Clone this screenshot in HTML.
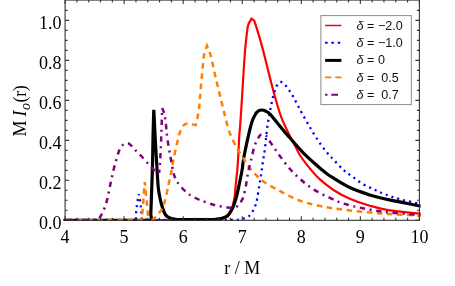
<!DOCTYPE html>
<html><head><meta charset="utf-8"><title>plot</title>
<style>
html,body{margin:0;padding:0;background:#fff;}
body{width:455px;height:286px;overflow:hidden;font-family:"Liberation Serif",serif;}
svg{display:block}
.tl text{font-family:"Liberation Serif",serif;font-size:18px;fill:#000}
.lg text{font-family:"Liberation Sans",sans-serif;font-size:12.55px;fill:#111}
</style></head><body>
<svg width="455" height="286" viewBox="0 0 455 286">
<rect width="455" height="286" fill="#fff"/>
<defs><clipPath id="cp"><rect x="63.39999999999999" y="0.05" width="357.19999999999993" height="220.85"/></clipPath></defs>
<g clip-path="url(#cp)" fill="none" stroke-linejoin="miter" stroke-miterlimit="3">
<path d="M65.5 220.0 C115.3 220.0 212.2 220.0 215.0 220.0 C217.8 220.0 219.3 219.4 221.0 219.0 C222.7 218.6 223.7 218.4 225.0 217.8 C226.3 217.2 227.6 216.9 228.7 215.6 C229.8 214.3 230.7 212.1 231.5 210.0 C232.3 207.9 232.9 205.3 233.4 203.0 C233.9 200.7 234.3 199.2 234.7 195.9 C235.1 192.6 235.6 186.3 236.0 182.0 C236.4 177.7 236.9 174.2 237.3 170.0 C237.7 165.8 237.9 162.5 238.2 157.0 C238.5 151.5 238.9 142.3 239.2 137.0 C239.5 131.7 239.9 129.5 240.2 125.0 C240.5 120.5 240.9 115.0 241.2 110.0 C241.5 105.0 241.9 100.0 242.2 95.0 C242.5 90.0 242.8 84.7 243.1 80.0 C243.4 75.3 243.5 72.7 243.9 67.0 C244.3 61.3 244.8 52.8 245.5 45.9 C246.2 39.0 247.1 29.5 247.9 25.9 C248.7 22.3 250.3 21.1 251.5 18.7 C252.4 19.3 253.3 20.0 254.2 20.6 C255.1 23.4 255.7 25.1 256.9 28.9 C258.1 32.7 260.2 39.5 261.9 45.9 C263.6 52.2 265.7 60.7 267.3 67.0 C268.9 73.3 270.0 78.0 271.4 83.5 C272.8 89.0 274.3 94.4 275.9 100.0 C277.5 105.6 279.5 112.3 281.2 117.0 C282.9 121.7 284.2 124.2 286.0 128.0 C287.8 131.8 290.2 136.7 291.8 139.8 C293.4 143.0 294.3 144.2 295.7 146.9 C297.1 149.6 298.0 152.4 300.4 156.0 C302.8 159.6 306.6 164.5 309.8 168.4 C313.1 172.3 315.9 175.8 319.9 179.4 C323.9 183.0 328.9 187.0 333.9 190.2 C338.9 193.4 343.8 196.2 349.8 198.8 C355.8 201.4 363.0 203.8 369.7 205.7 C376.4 207.6 381.3 209.1 390.0 210.4 C398.7 211.8 411.3 212.7 422.0 213.8" stroke="#ff0000" stroke-width="2.2"/>
<path d="M65.5 220.0 C88.9 220.0 112.4 220.0 135.8 220.0 C135.9 217.9 135.9 215.8 136.1 213.7 C136.2 211.6 136.4 209.4 136.7 207.2 C136.9 205.0 137.2 202.9 137.6 200.7 C137.9 198.5 138.4 196.4 138.8 194.2 C139.2 196.4 139.8 198.5 140.1 200.7 C140.4 202.9 140.7 205.0 140.9 207.2 C141.1 209.4 141.3 211.6 141.5 213.7 C141.7 215.8 141.7 217.9 141.8 220.0 C173.2 220.0 234.1 220.0 236.0 220.0 C237.9 220.0 238.7 219.5 240.0 219.2 C241.3 218.9 242.5 218.9 244.0 218.4 C245.5 217.9 247.5 217.3 248.9 216.2 C250.3 215.1 251.4 213.4 252.5 211.6 C253.6 209.8 254.5 207.7 255.3 205.6 C256.1 203.5 256.5 202.0 257.1 198.9 C257.7 195.8 258.6 190.1 259.3 185.9 C260.0 181.8 260.6 178.0 261.2 174.0 C261.8 170.0 262.3 166.1 262.9 161.9 C263.5 157.7 264.2 154.2 264.9 148.9 C265.6 143.6 266.2 135.2 266.9 130.0 C267.5 124.8 268.4 120.7 268.8 117.9 C269.2 115.1 269.4 113.9 269.8 111.8 C270.2 109.7 270.8 107.5 271.2 105.4 C271.6 103.3 271.9 101.3 272.4 99.2 C272.9 97.1 273.6 95.0 274.2 92.9 C274.8 90.9 275.2 88.7 276.2 86.9 C277.2 85.1 278.7 82.2 280.2 81.9 C281.7 81.6 283.9 83.9 285.4 85.3 C286.9 86.7 288.0 88.5 289.2 90.3 C290.4 92.1 291.6 94.1 292.7 95.9 C293.8 97.8 294.7 99.5 295.7 101.4 C296.7 103.3 297.7 105.3 298.7 107.2 C299.7 109.1 300.3 110.3 301.7 112.8 C303.1 115.3 306.9 122.0 309.5 126.5 C312.1 131.0 315.0 135.9 317.6 139.8 C320.2 143.7 322.8 147.3 324.9 150.0 C326.9 152.7 328.4 154.1 329.9 155.8 C331.4 157.5 332.1 158.1 333.9 160.0 C335.7 161.9 339.8 166.7 342.8 169.4 C345.8 172.1 348.3 173.7 351.8 176.2 C355.3 178.7 359.7 182.2 363.7 184.5 C367.7 186.8 372.0 188.5 375.7 190.2 C379.4 191.9 381.6 193.0 385.7 194.5 C389.8 196.0 393.9 197.7 400.0 199.3 C406.1 200.9 414.7 202.6 422.0 204.3" stroke="#0000ff" stroke-width="2.3" stroke-dasharray="2.1 4.0" stroke-dashoffset="2.25"/>
<path d="M62.0 220.4 C91.3 220.4 147.0 220.6 149.9 220.4 C152.8 220.2 150.7 216.9 150.8 214.0 C150.9 211.1 151.9 184.7 152.3 172.0 C152.7 159.3 152.8 148.3 153.0 138.0 C153.2 127.7 153.5 119.3 153.8 109.9 C154.3 119.3 154.6 127.7 155.2 138.0 C155.8 148.3 156.7 164.7 157.2 172.0 C157.7 179.3 157.8 183.7 158.3 188.0 C158.8 192.3 159.4 195.2 160.0 198.0 C160.6 200.8 160.9 202.5 161.7 205.0 C162.4 207.5 163.7 211.2 164.5 213.0 C165.3 214.8 166.2 215.7 167.1 216.5 C168.0 217.3 168.8 217.6 170.0 218.0 C171.2 218.4 172.3 218.7 174.0 219.0 C175.7 219.3 177.3 219.6 180.0 219.6 C182.7 219.6 210.2 219.6 212.0 219.6 C213.8 219.6 214.5 219.5 216.0 219.3 C217.5 219.1 219.4 218.9 221.0 218.5 C222.6 218.1 224.4 217.5 225.7 216.8 C227.0 216.1 227.7 215.5 228.7 214.3 C229.7 213.1 230.8 211.5 231.7 209.8 C232.6 208.1 233.4 206.3 234.2 204.0 C235.0 201.7 235.8 199.6 236.7 195.9 C237.6 192.2 238.8 186.3 239.7 182.0 C240.6 177.7 241.4 174.2 242.1 170.0 C242.8 165.8 242.9 162.4 243.9 157.0 C244.9 151.6 246.6 143.7 247.9 137.8 C249.2 132.0 250.6 126.0 251.9 121.9 C253.2 117.8 255.1 114.8 255.9 113.4 C256.7 112.0 257.5 111.5 258.5 110.9 C259.5 110.3 260.7 110.0 261.9 110.0 C263.1 110.0 264.2 110.3 265.5 111.0 C266.8 111.7 268.2 112.2 269.8 113.9 C271.4 115.6 276.5 121.9 279.8 125.9 C283.1 129.9 286.5 134.0 289.8 137.8 C293.1 141.7 297.3 146.4 299.7 149.0 C302.1 151.6 302.6 152.3 305.0 154.6 C307.4 156.9 310.9 160.2 313.8 162.8 C316.7 165.4 320.1 168.2 322.5 170.2 C324.9 172.2 326.3 173.3 328.2 174.7 C330.1 176.0 331.3 176.7 333.9 178.3 C336.5 179.9 343.8 184.7 349.8 187.5 C355.8 190.3 363.1 192.8 369.7 194.9 C376.3 197.0 380.9 198.0 389.6 199.9 C398.3 201.8 411.2 204.2 422.0 206.4" stroke="#000000" stroke-width="3.2"/>
<path d="M67.2 220.0 C92.0 220.0 116.9 220.0 141.7 220.0 C142.0 217.0 142.2 215.1 142.5 211.0 C142.8 206.9 144.0 191.7 144.8 182.0 C145.7 191.7 147.2 206.9 147.6 211.0 C148.0 215.1 148.1 217.0 148.4 220.0" stroke="#ff8000" stroke-width="2.5" stroke-dasharray="5.6 4.5" stroke-dashoffset="0.35"/>
<path d="M148.4 220.0 C149.5 220.0 150.4 220.5 151.6 220.0 C152.8 219.5 154.4 218.2 155.8 216.8 C157.2 215.5 158.8 213.3 159.9 211.9 C161.0 210.5 161.4 210.2 162.2 208.5 C163.0 206.8 164.0 204.3 164.8 201.3 C165.7 198.3 166.7 193.4 167.3 190.5 C168.0 187.6 168.1 186.6 168.7 183.8 C169.3 181.1 170.0 178.3 170.8 174.0 C171.7 169.7 172.7 163.4 173.8 158.0 C174.9 152.6 176.7 144.6 177.5 141.3 C178.3 138.0 178.7 135.9 179.3 134.0 C179.9 132.1 180.3 131.2 181.0 129.8 C181.7 128.4 182.4 126.4 183.5 125.3 C184.6 124.2 186.0 123.6 187.3 123.4 C188.6 123.2 190.1 123.8 191.5 124.1 C192.9 124.4 194.3 124.8 195.7 125.1 C196.2 123.4 196.7 122.0 197.1 120.0 C197.5 118.0 197.9 115.3 198.3 113.0 C198.7 110.7 199.0 109.1 199.3 105.9 C199.6 102.7 200.1 95.3 200.9 87.0 C201.7 78.7 203.2 60.7 203.9 55.9 C204.6 51.1 206.0 49.2 207.0 45.8 C208.3 49.2 209.5 51.2 210.8 55.9 C212.1 60.6 214.6 73.3 216.2 80.0 C217.8 86.7 218.8 90.6 220.1 95.9 C221.4 101.2 222.6 106.2 224.0 111.9 C225.4 117.6 227.4 125.8 228.7 130.0 C230.0 134.2 231.2 136.0 232.5 139.0 C233.8 142.0 235.3 145.3 236.7 147.9 C238.1 150.5 239.6 152.3 241.0 154.5 C242.4 156.7 243.8 159.1 244.9 160.9 C246.0 162.7 246.2 163.5 247.6 165.4 C249.0 167.3 251.3 170.1 253.9 172.8 C256.5 175.5 259.1 178.5 263.4 181.5 C267.7 184.5 274.1 187.8 279.8 190.9 C285.5 194.0 291.4 197.5 297.7 199.9 C304.0 202.3 310.6 203.9 317.6 205.5 C324.7 207.1 329.8 207.9 340.0 209.2 C350.2 210.5 366.3 212.3 380.0 213.4 C393.7 214.5 408.0 214.9 422.0 215.7" stroke="#ff8000" stroke-width="2.5" stroke-dasharray="5.6 4.5" stroke-dashoffset="7.0" stroke-miterlimit="6"/>
<path d="M66.5 220.0 C76.6 220.0 95.3 220.1 96.8 220.0 C98.3 219.9 98.5 219.0 99.3 218.0 C100.1 217.0 100.9 215.9 101.8 214.1 C102.7 212.3 103.9 209.8 104.8 207.3 C105.7 204.9 106.4 202.7 107.2 199.4 C108.0 196.1 108.9 191.5 109.7 187.6 C110.5 183.7 111.2 180.1 112.2 175.9 C113.2 171.8 114.2 166.9 115.4 162.7 C116.6 158.5 118.0 153.4 119.2 150.6 C120.4 147.8 121.4 146.2 122.8 145.0 C124.2 143.8 126.3 143.1 127.8 143.2 C129.2 143.3 130.2 144.6 131.5 145.8 C132.8 147.0 133.8 148.6 135.3 150.2 C136.8 151.8 138.5 153.1 140.4 155.2 C142.3 157.2 144.9 160.2 147.0 162.5 C149.1 164.8 151.0 167.2 153.0 169.0 C155.0 170.8 157.1 171.7 159.1 173.0" stroke="#800080" stroke-width="2.5" stroke-dasharray="5.4 4.6 2.0 4.6" stroke-dashoffset="-0.3"/>
<path d="M159.1 173.0 C159.3 170.8 159.6 169.5 159.8 166.5 C160.0 163.5 160.7 151.0 161.1 141.3 C161.5 131.6 161.8 119.2 162.2 108.2 C162.9 109.9 163.7 111.6 164.2 113.4 C164.7 115.2 164.9 116.7 165.2 119.0 C165.5 121.3 165.8 123.8 166.2 127.0 C166.5 130.2 166.6 133.0 167.3 138.0 C168.0 143.0 169.4 151.0 170.5 157.0 C171.6 163.0 172.6 169.7 173.8 174.0 C175.0 178.3 175.9 179.9 177.9 182.9 C179.9 185.9 183.6 189.7 185.9 191.9 C188.2 194.1 189.7 194.7 192.0 196.0 C194.3 197.3 196.2 198.4 199.8 199.9 C203.4 201.4 209.2 203.6 213.8 204.9 C218.5 206.2 225.0 207.1 227.7 207.5 C230.4 207.9 232.1 207.7 233.7 207.5 C235.2 207.3 236.0 207.0 237.0 206.4 C238.0 205.8 238.9 205.0 239.7 203.9 C240.5 202.8 241.3 201.2 242.0 199.9 C242.7 198.6 243.2 197.8 243.7 195.9 C244.2 194.0 245.2 189.7 245.9 185.9 C246.6 182.1 247.2 177.2 248.0 173.0 C248.8 168.8 249.8 165.6 250.9 160.9 C252.1 156.2 253.4 149.1 254.9 144.9 C256.4 140.7 259.0 136.8 259.9 135.6 C260.8 134.4 261.8 134.0 263.0 134.2 C264.2 134.4 265.6 135.1 266.9 136.6 C268.2 138.1 268.9 140.1 270.8 142.9 C272.7 145.7 276.6 151.6 279.8 155.9 C283.0 160.2 286.3 164.8 289.8 168.8 C293.3 172.8 297.0 176.3 301.0 179.8 C305.0 183.3 309.1 186.6 313.9 189.6 C318.7 192.6 324.5 195.4 329.9 197.8 C335.2 200.2 338.4 202.2 346.0 204.3 C353.6 206.4 367.3 209.5 380.0 211.3 C392.7 213.1 408.0 213.9 422.0 215.2" stroke="#800080" stroke-width="2.5" stroke-dasharray="5.4 4.6 2.0 4.6" stroke-dashoffset="1.8"/>
</g>
<g stroke="#333" stroke-width="1.1" fill="none">
<rect x="65.1" y="0.05" width="354.29999999999995" height="220.25"/>
<path d="M65.10 220.30 v-4.00 M65.10 0.05 v4.00"/>
<path d="M76.91 220.30 v-2.50 M76.91 0.05 v2.50"/>
<path d="M88.72 220.30 v-2.50 M88.72 0.05 v2.50"/>
<path d="M100.53 220.30 v-2.50 M100.53 0.05 v2.50"/>
<path d="M112.34 220.30 v-2.50 M112.34 0.05 v2.50"/>
<path d="M124.15 220.30 v-4.00 M124.15 0.05 v4.00"/>
<path d="M135.96 220.30 v-2.50 M135.96 0.05 v2.50"/>
<path d="M147.77 220.30 v-2.50 M147.77 0.05 v2.50"/>
<path d="M159.58 220.30 v-2.50 M159.58 0.05 v2.50"/>
<path d="M171.39 220.30 v-2.50 M171.39 0.05 v2.50"/>
<path d="M183.20 220.30 v-4.00 M183.20 0.05 v4.00"/>
<path d="M195.01 220.30 v-2.50 M195.01 0.05 v2.50"/>
<path d="M206.82 220.30 v-2.50 M206.82 0.05 v2.50"/>
<path d="M218.63 220.30 v-2.50 M218.63 0.05 v2.50"/>
<path d="M230.44 220.30 v-2.50 M230.44 0.05 v2.50"/>
<path d="M242.25 220.30 v-4.00 M242.25 0.05 v4.00"/>
<path d="M254.06 220.30 v-2.50 M254.06 0.05 v2.50"/>
<path d="M265.87 220.30 v-2.50 M265.87 0.05 v2.50"/>
<path d="M277.68 220.30 v-2.50 M277.68 0.05 v2.50"/>
<path d="M289.49 220.30 v-2.50 M289.49 0.05 v2.50"/>
<path d="M301.30 220.30 v-4.00 M301.30 0.05 v4.00"/>
<path d="M313.11 220.30 v-2.50 M313.11 0.05 v2.50"/>
<path d="M324.92 220.30 v-2.50 M324.92 0.05 v2.50"/>
<path d="M336.73 220.30 v-2.50 M336.73 0.05 v2.50"/>
<path d="M348.54 220.30 v-2.50 M348.54 0.05 v2.50"/>
<path d="M360.35 220.30 v-4.00 M360.35 0.05 v4.00"/>
<path d="M372.16 220.30 v-2.50 M372.16 0.05 v2.50"/>
<path d="M383.97 220.30 v-2.50 M383.97 0.05 v2.50"/>
<path d="M395.78 220.30 v-2.50 M395.78 0.05 v2.50"/>
<path d="M407.59 220.30 v-2.50 M407.59 0.05 v2.50"/>
<path d="M419.40 220.30 v-4.00 M419.40 0.05 v4.00"/>
<path d="M65.10 220.30 h4.00 M419.40 220.30 h-4.00"/>
<path d="M65.10 210.31 h2.50 M419.40 210.31 h-2.50"/>
<path d="M65.10 200.31 h2.50 M419.40 200.31 h-2.50"/>
<path d="M65.10 190.31 h2.50 M419.40 190.31 h-2.50"/>
<path d="M65.10 180.32 h4.00 M419.40 180.32 h-4.00"/>
<path d="M65.10 170.33 h2.50 M419.40 170.33 h-2.50"/>
<path d="M65.10 160.33 h2.50 M419.40 160.33 h-2.50"/>
<path d="M65.10 150.34 h2.50 M419.40 150.34 h-2.50"/>
<path d="M65.10 140.34 h4.00 M419.40 140.34 h-4.00"/>
<path d="M65.10 130.35 h2.50 M419.40 130.35 h-2.50"/>
<path d="M65.10 120.35 h2.50 M419.40 120.35 h-2.50"/>
<path d="M65.10 110.36 h2.50 M419.40 110.36 h-2.50"/>
<path d="M65.10 100.36 h4.00 M419.40 100.36 h-4.00"/>
<path d="M65.10 90.37 h2.50 M419.40 90.37 h-2.50"/>
<path d="M65.10 80.37 h2.50 M419.40 80.37 h-2.50"/>
<path d="M65.10 70.38 h2.50 M419.40 70.38 h-2.50"/>
<path d="M65.10 60.38 h4.00 M419.40 60.38 h-4.00"/>
<path d="M65.10 50.38 h2.50 M419.40 50.38 h-2.50"/>
<path d="M65.10 40.39 h2.50 M419.40 40.39 h-2.50"/>
<path d="M65.10 30.39 h2.50 M419.40 30.39 h-2.50"/>
<path d="M65.10 20.40 h4.00 M419.40 20.40 h-4.00"/>
<path d="M65.10 10.41 h2.50 M419.40 10.41 h-2.50"/>
</g>
<g class="tl" style="filter:grayscale(1)">
<text x="65.1" y="243.2" text-anchor="middle">4</text>
<text x="124.1" y="243.2" text-anchor="middle">5</text>
<text x="183.2" y="243.2" text-anchor="middle">6</text>
<text x="242.2" y="243.2" text-anchor="middle">7</text>
<text x="301.3" y="243.2" text-anchor="middle">8</text>
<text x="360.3" y="243.2" text-anchor="middle">9</text>
<text x="419.4" y="243.2" text-anchor="middle">10</text>
<text x="61.5" y="228.8" text-anchor="end">0.0</text>
<text x="61.5" y="188.8" text-anchor="end">0.2</text>
<text x="61.5" y="148.8" text-anchor="end">0.4</text>
<text x="61.5" y="108.9" text-anchor="end">0.6</text>
<text x="61.5" y="68.9" text-anchor="end">0.8</text>
<text x="61.5" y="28.9" text-anchor="end">1.0</text>
<text x="242.3" y="273.6" text-anchor="middle">r / M</text>
<text transform="translate(26.3 110.9) rotate(-90)"><tspan x="-25.7">M</tspan><tspan x="-5.7" font-style="italic">I</tspan><tspan x="0.9" font-style="italic" font-size="14px" dy="3.6">o</tspan><tspan x="8.5" dy="-3.6" letter-spacing="-0.45">(r)</tspan></text>
</g>
<g class="lg">
<rect x="320.9" y="15.6" width="90.4" height="89.0" fill="#fff" stroke="#8c8c8c" stroke-width="1"/>
<path d="M325.1 25.5h16.4" stroke="#ff0000" stroke-width="1.5"/>
<path d="M325.1 42.7h16" stroke="#0000ff" stroke-width="2" stroke-dasharray="2.5 3.8"/>
<path d="M325.1 60.4h16.3" stroke="#000" stroke-width="3"/>
<path d="M325.1 77.4h16.5" stroke="#ff8000" stroke-width="1.8" stroke-dasharray="6.4 3.7"/>
<path d="M325.1 94.8h12.9" stroke="#800080" stroke-width="2" stroke-dasharray="2.4 3.8 6.7 3.8"/>
<g style="filter:grayscale(1)">
<text x="356.6" y="29.6"><tspan font-style="italic">δ</tspan> = −2.0</text>
<text x="356.6" y="47.0"><tspan font-style="italic">δ</tspan> = −1.0</text>
<text x="356.6" y="64.4"><tspan font-style="italic">δ</tspan> = 0</text>
<text x="356.6" y="81.8" xml:space="preserve"><tspan font-style="italic">δ</tspan> =  0.5</text>
<text x="356.6" y="99.2" xml:space="preserve"><tspan font-style="italic">δ</tspan> =  0.7</text>
</g>
</g>
</svg>
</body></html>
